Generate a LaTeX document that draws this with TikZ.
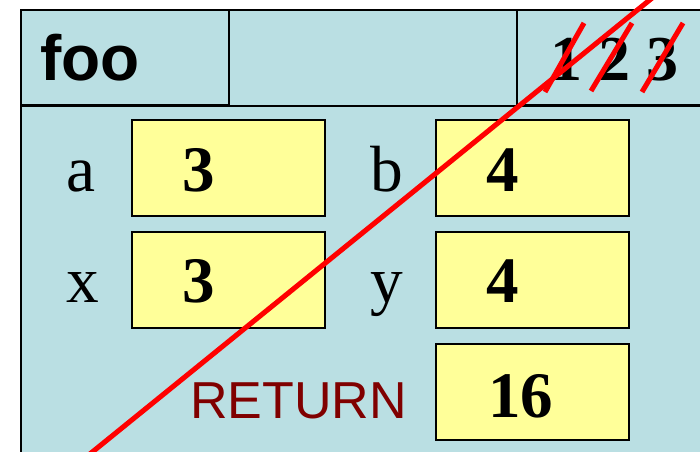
\documentclass[tikz,border=0pt]{standalone}
\usepackage{fontspec}
\setmainfont{Liberation Serif}
\newfontfamily\arialfont{Liberation Sans}
\definecolor{framebg}{RGB}{186,223,227}
\definecolor{valbg}{RGB}{255,255,153}
\definecolor{retcol}{RGB}{128,0,0}
\definecolor{slashred}{RGB}{255,0,0}
\begin{document}
\begin{tikzpicture}[x=0.75pt,y=-0.75pt,
  framebox/.style={draw=black, line width=1.5pt, fill=framebg, rectangle, inner sep=0pt, anchor=north west},
  hdrbox/.style={draw=black, line width=1.5pt, rectangle, inner sep=0pt, anchor=north west},
  valbox/.style={draw=black, line width=1.5pt, fill=valbg, rectangle, inner sep=0pt, minimum width=144.75pt, minimum height=72pt},
  lbl/.style={font=\fontsize{49}{52}\selectfont, inner sep=0pt, anchor=base west},
  valtxt/.style={font=\fontsize{48.75}{52}\selectfont\bfseries, inner sep=0pt, anchor=base west},
  cnt/.style={font=\fontsize{48}{52}\selectfont\bfseries, inner sep=0pt, anchor=base west},
  hdrtxt/.style={font=\arialfont\bfseries\fontsize{48}{52}\selectfont, inner sep=0pt, anchor=base west},
  rettxt/.style={font=\arialfont\fontsize{39}{42}\selectfont, text=retcol, inner sep=0pt, anchor=base west},
  strike/.style={draw=slashred, line width=3.8pt}
]
\useasboundingbox (0,0) rectangle (700,452);
\clip (0,0) rectangle (700,452);
% outer frame
\node[framebox, minimum width=525pt, minimum height=360pt] (frame) at (20,9) {};
% header boxes
\node[hdrbox, minimum width=156pt, minimum height=71.25pt] (title) at (20,9) {};
\node[hdrbox, minimum width=180pt, minimum height=71.25pt] (counter) at (516,9) {};
\draw[line width=1.5pt] (title.south west) -- (counter.south east);
\node[hdrtxt] (foo) at (40,81) {foo};
\node[cnt] (c1) at (550,81) {1};
\node[cnt] (c2) at (598,81) {2};
\node[cnt] (c3) at (646,81) {3};
% value boxes
\node[valbox] (abox) at (228,168) {};
\node[valbox] (bbox) at (532,168) {};
\node[valbox] (xbox) at (228,280) {};
\node[valbox] (ybox) at (532,280) {};
\node[valbox] (rbox) at (532,392) {};
% labels
\node[lbl] (la) at (66,192) {a};
\node[lbl] (lb) at (370,192) {b};
\node[lbl] (lx) at (66,303) {x};
\node[lbl] (ly) at (370,303) {y};
\node[rettxt] (lret) at (190,418) {RETURN};
% values
\node[valtxt] (va) at (182,192) {3};
\node[valtxt] (vb) at (486,192) {4};
\node[valtxt] (vx) at (182,303) {3};
\node[valtxt] (vy) at (486,303) {4};
\node[valtxt] (vr) at (488,417) {16};
% strike-throughs
\coordinate (s1a) at (584,23); \coordinate (s1b) at (545,92);
\coordinate (s2a) at (632,23); \coordinate (s2b) at (591,91);
\coordinate (s3a) at (683,23); \coordinate (s3b) at (642,92);
\draw[strike] (s1a) -- (s1b);
\draw[strike] (s2a) -- (s2b);
\draw[strike] (s3a) -- (s3b);
\coordinate (bigA) at (80,462);
\coordinate (bigB) at (662,-10);
\draw[strike] (bigA) -- (bigB);
\end{tikzpicture}
\end{document}
